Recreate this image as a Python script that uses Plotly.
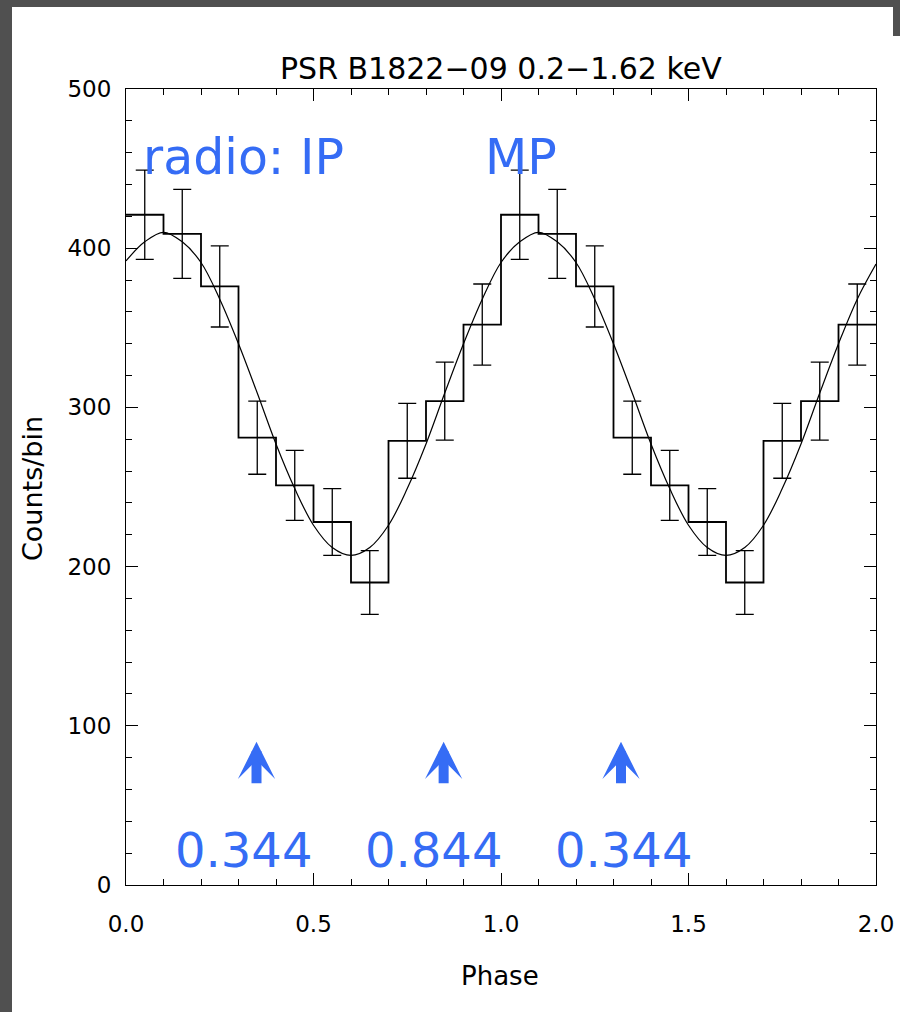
import plotly.graph_objects as go

# ---- data ----
bin_left = [0.0, 0.1, 0.2, 0.3, 0.4, 0.5, 0.6, 0.7, 0.8, 0.9,
            1.0, 1.1, 1.2, 1.3, 1.4, 1.5, 1.6, 1.7, 1.8, 1.9]
bin_width = 0.1
counts = [421, 409, 376, 281, 251, 228, 190, 279, 304, 352,
          421, 409, 376, 281, 251, 228, 190, 279, 304, 352]
errors = [28, 28, 25.5, 23, 22, 21, 20, 23.5, 24.5, 25.5,
          28, 28, 25.5, 23, 22, 21, 20, 23.5, 24.5, 25.5]

curve_phase = [0.00, 0.05, 0.10, 0.15, 0.20, 0.25, 0.30, 0.35, 0.40, 0.45,
               0.50, 0.55, 0.60, 0.65, 0.70, 0.75, 0.80, 0.85, 0.90, 0.95,
               1.00, 1.05, 1.10, 1.15, 1.20, 1.25, 1.30, 1.35, 1.40, 1.45,
               1.50, 1.55, 1.60, 1.65, 1.70, 1.75, 1.80, 1.85, 1.90, 1.95, 2.00]
curve_counts = [392, 404, 410, 404, 391, 368, 340, 309, 277, 249,
                226, 212, 207, 212, 226, 249, 277, 309, 340, 368,
                391, 404, 410, 404, 391, 368, 340, 309, 277, 249,
                226, 212, 207, 212, 226, 249, 277, 309, 340, 368, 390]

arrow_phase = [0.348, 0.847, 1.32]
arrow_tip = 90
arrow_base = 63
label_phase = [0.313, 0.821, 1.327]
label_text = ["0.344", "0.844", "0.344"]
label_y = 22
radio_labels = ["radio: IP", "MP"]
radio_x = [0.04, 1.053]
radio_anchor = ["left", "center"]
radio_y = 457

title = "PSR B1822\u221209 0.2\u22121.62 keV"
xtitle = "Phase"
ytitle = "Counts/bin"

BLUE = "#356cf5"
FONT = "DejaVu Sans"

W, H = 900, 1012
ML, MR, MT, MB = 126, 24, 89, 127
PW, PH = W - ML - MR, H - MT - MB

def px_x(p):
    return (p - ML) / PW

def px_y(p):
    return (H - MB - p) / PH

fig = go.Figure()

# histogram steps
step_x = bin_left + [bin_left[-1] + bin_width]
step_y = counts + [counts[-1]]
fig.add_trace(go.Scatter(x=step_x, y=step_y, mode="lines", line_shape="hv",
                         line=dict(color="black", width=1.8), hoverinfo="skip"))

# error bars
centers = [b + bin_width / 2 for b in bin_left]
fig.add_trace(go.Scatter(x=centers, y=counts, mode="markers",
                         marker=dict(size=0.1, color="black", opacity=0),
                         error_y=dict(type="data", array=errors, visible=True,
                                      color="black", thickness=1.3, width=9),
                         hoverinfo="skip"))

# fitted curve
fig.add_trace(go.Scatter(x=curve_phase, y=curve_counts, mode="lines",
                         line_shape="spline",
                         line=dict(color="black", width=1.2), hoverinfo="skip"))

annotations = []
for xp in arrow_phase:
    annotations.append(dict(x=xp, y=arrow_tip, ax=xp, ay=arrow_base,
                            xref="x", yref="y", axref="x", ayref="y",
                            text="", showarrow=True, arrowhead=3,
                            arrowsize=0.62, arrowwidth=10, arrowcolor=BLUE,
                            standoff=0, startstandoff=0))
for xp, t in zip(label_phase, label_text):
    annotations.append(dict(x=xp, y=label_y, xref="x", yref="y", text=t,
                            showarrow=False, xanchor="center", yanchor="middle",
                            font=dict(family=FONT, size=48, color=BLUE)))
for xp, t, a in zip(radio_x, radio_labels, radio_anchor):
    annotations.append(dict(x=xp, y=radio_y, xref="x", yref="y", text=t,
                            showarrow=False, xanchor=a, yanchor="middle",
                            font=dict(family=FONT, size=49, color=BLUE)))

# titles
annotations.append(dict(x=px_x(501), y=px_y(68), xref="paper", yref="paper",
                        text=title, showarrow=False, xanchor="center",
                        yanchor="middle", font=dict(family=FONT, size=30, color="black")))
annotations.append(dict(x=px_x(500), y=px_y(976), xref="paper", yref="paper",
                        text=xtitle, showarrow=False, xanchor="center",
                        yanchor="middle", font=dict(family=FONT, size=26, color="black")))
annotations.append(dict(x=px_x(33), y=px_y(489), xref="paper", yref="paper",
                        text=ytitle, showarrow=False, textangle=-90,
                        xanchor="center", yanchor="middle",
                        font=dict(family=FONT, size=27, color="black")))

# dark screenshot border
BORDER = "#505050"
shapes = [
    dict(type="rect", xref="paper", yref="paper", x0=px_x(0), x1=px_x(12),
         y0=px_y(H), y1=px_y(0), fillcolor=BORDER, line=dict(width=0), layer="above"),
    dict(type="rect", xref="paper", yref="paper", x0=px_x(0), x1=px_x(W),
         y0=px_y(7), y1=px_y(0), fillcolor=BORDER, line=dict(width=0), layer="above"),
    dict(type="rect", xref="paper", yref="paper", x0=px_x(893), x1=px_x(W),
         y0=px_y(36), y1=px_y(0), fillcolor=BORDER, line=dict(width=0), layer="above"),
]

axis_common = dict(showline=True, linecolor="black", linewidth=1.2, mirror="ticks",
                   ticks="inside", tickcolor="black", tickwidth=1.2, ticklen=12,
                   showgrid=False, zeroline=False, automargin=False,
                   tickfont=dict(family=FONT, size=23, color="black"))

fig.update_layout(
    template="none",
    width=W, height=H, autosize=False,
    margin=dict(l=ML, r=MR, t=MT, b=MB, pad=0, autoexpand=False),
    paper_bgcolor="white", plot_bgcolor="white",
    showlegend=False,
    annotations=annotations,
    shapes=shapes,
    xaxis=dict(range=[0, 2], dtick=0.5, tick0=0, tickformat=".1f",
               ticklabelstandoff=18,
               minor=dict(ticks="inside", dtick=0.1, ticklen=6, tickcolor="black",
                          tickwidth=1),
               **axis_common),
    yaxis=dict(range=[0, 500], dtick=100, tick0=0, ticklabelstandoff=9,
               minor=dict(ticks="inside", dtick=20, ticklen=6, tickcolor="black",
                          tickwidth=1),
               **axis_common),
)

fig.write_html("out.html")
